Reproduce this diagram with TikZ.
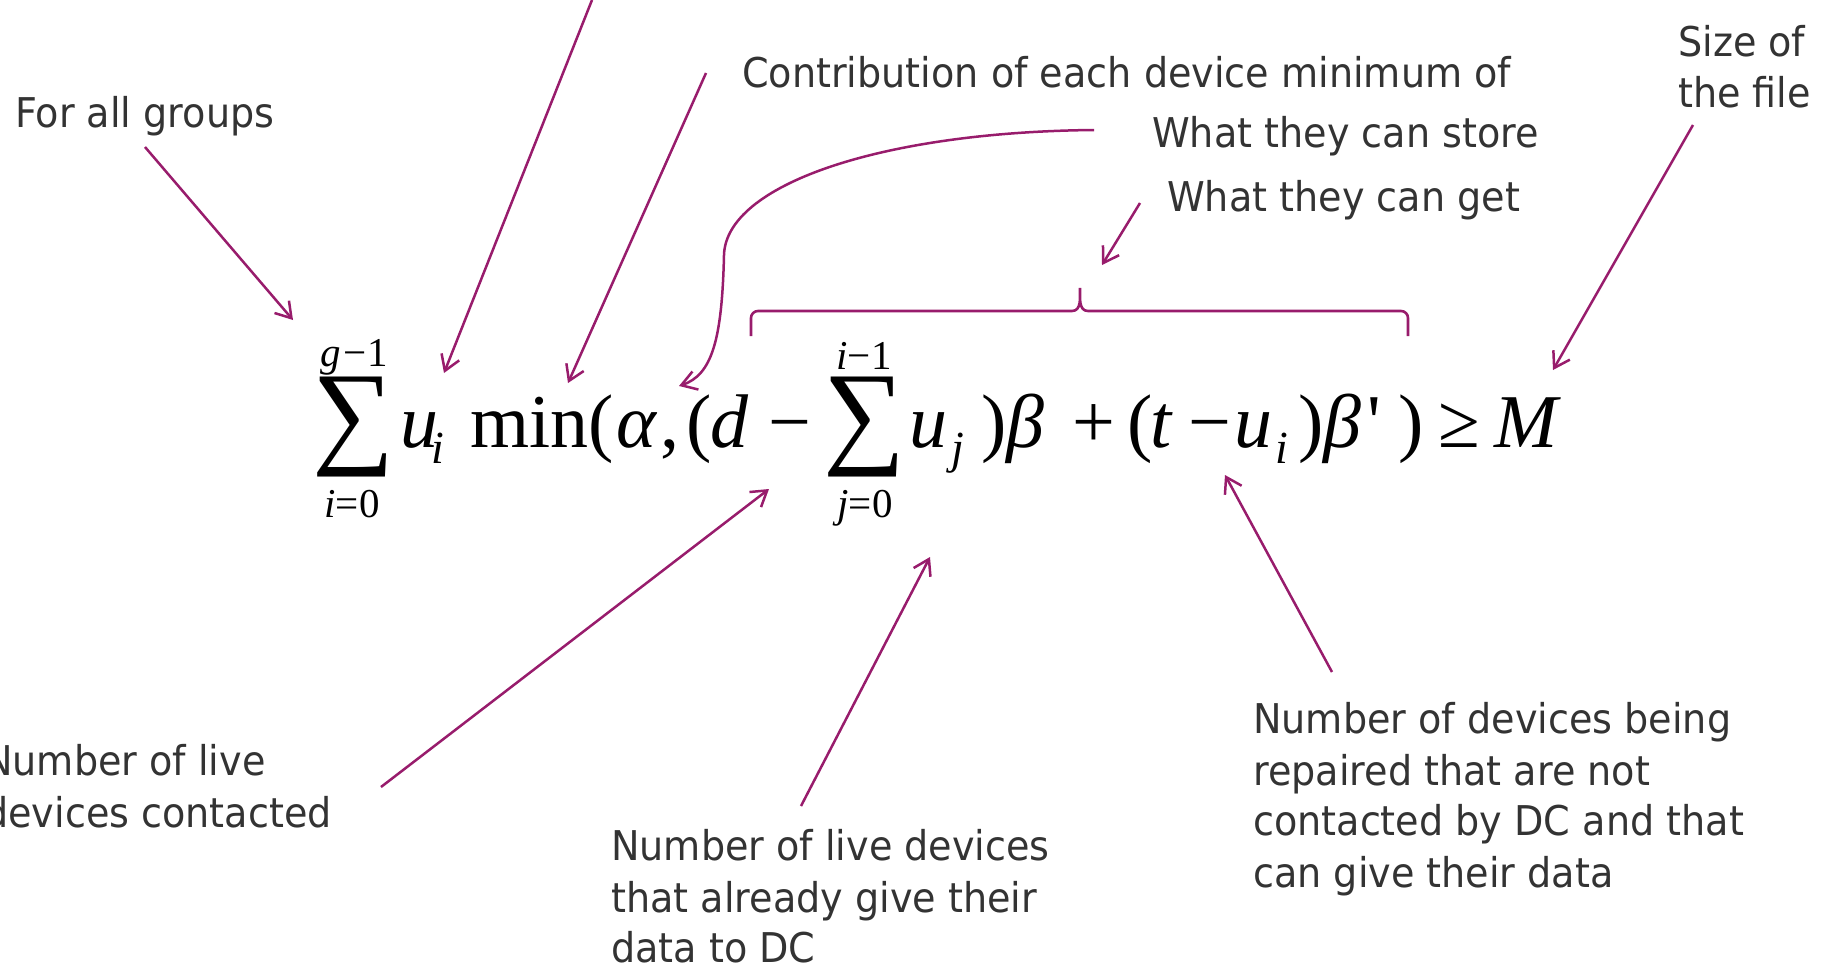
\documentclass[tikz,border=0pt]{standalone}
\usepackage{fontspec}
\usepackage{graphicx}
\setmainfont{DejaVu Sans}[FakeStretch=0.93]
\newfontfamily\eqfont{Liberation Serif}
\usetikzlibrary{arrows.meta}
\definecolor{arrowc}{RGB}{152,28,108}
\definecolor{txtc}{RGB}{51,51,51}
\begin{document}
\begin{tikzpicture}[x=1pt,y=-1pt,
  lbl/.style={anchor=base west, inner sep=0pt, text=txtc, font=\fontsize{41}{51}\selectfont},
  eq/.style={anchor=base west, inner sep=0pt, font=\fontsize{76}{76}\eqfont},
  eqi/.style={anchor=base west, inner sep=0pt, font=\fontsize{76}{76}\eqfont\itshape},
  sub/.style={anchor=base west, inner sep=0pt, font=\fontsize{46}{46}\eqfont\itshape},
  lim/.style={anchor=base, inner sep=0pt, font=\fontsize{41}{41}\eqfont},
  bigsum/.style={anchor=center, inner sep=0pt, font=\eqfont},
  arr/.style={draw=arrowc, line width=2.5pt, -{Straight Barb[length=15pt,width=19pt]}},
  brc/.style={draw=arrowc, line width=2.6pt}]
\useasboundingbox (0,0) rectangle (1831,969);

% ---- labels ----
\node[lbl] (forall) at (15,127) {For all groups};
\node[lbl] (contrib) at (742,87) {Contribution of each device minimum of};
\node[lbl] (store) at (1152,147) {What they can store};
\node[lbl] (get) at (1167,211) {What they can get};
\node[lbl] (size1) at (1678,56) {Size of};
\node[lbl] (size2) at (1678,107) {the file};
\node[lbl] (live1) at (-16,775) {Number of live};
\node[lbl] (live2) at (-16,827) {devices contacted};
\node[lbl] (give1) at (611,860) {Number of live devices};
\node[lbl] (give2) at (611,912) {that already give their};
\node[lbl] (give3) at (611,962) {data to DC};
\node[lbl] (rep1) at (1253,733) {Number of devices being};
\node[lbl] (rep2) at (1253,785) {repaired that are not};
\node[lbl] (rep3) at (1253,835) {contacted by DC and that};
\node[lbl] (rep4) at (1253,887) {can give their data};

% ---- formula ----
\node[bigsum] (sum1) at (353.5,427) {\resizebox*{82pt}{100pt}{∑}};
\node[lim] (sum1up) at (354,366) {\itshape g\upshape\kern3pt −1};
\node[lim] (sum1lo) at (352,517) {\itshape i\upshape =0};
\node[eqi] (u1) at (400,447) {u};
\node[sub] (i1) at (431,463) {i};
\node[eq] (min) at (470,447) {min(};
\node[eqi] (alpha) at (616,447) {α};
\node[eq] (comma) at (660,447) {,};
\node[eq] (par1) at (686,447) {(};
\node[eqi] (d) at (710,447) {d};
\node[eq] (minus1) at (768,447) {−};
\node[bigsum] (sum2) at (865,427) {\resizebox*{82pt}{100pt}{∑}};
\node[lim] (sum2up) at (864,369) {\itshape i\upshape −1};
\node[lim] (sum2lo) at (865,517) {\itshape j\upshape =0};
\node[eqi] (u2) at (909,447) {u};
\node[sub] (j) at (951,463) {j};
\node[eq] (par2) at (981,447) {)};
\node[eqi] (beta1) at (1006,447) {β};
\node[eq] (plus) at (1072,447) {+};
\node[eq] (par3) at (1127,447) {(};
\node[eqi] (t) at (1150,447) {t};
\node[eq] (minus2) at (1188,447) {−};
\node[eqi] (u3) at (1234,447) {u};
\node[sub] (i3) at (1275,463) {i};
\node[eq] (par4) at (1298,447) {)};
\node[eqi] (beta2) at (1323,447) {β};
\node[eq] (prime) at (1367,447) {'};
\node[eq] (par5) at (1398,447) {)};
\node[eq] (geq) at (1438,447) {≥};
\node[eqi] (M) at (1494,447) {M};

% ---- arrow end points ----
\coordinate (a1s) at (145,147);  \coordinate (a1e) at (293,320);
\coordinate (a2s) at (592,0);    \coordinate (a2e) at (444,373);
\coordinate (a3s) at (706,73);   \coordinate (a3e) at (568,383);
\coordinate (a4s) at (1094,130); \coordinate (a4e) at (679,386);
\coordinate (a5s) at (1140,203); \coordinate (a5e) at (1102,265);
\coordinate (a6s) at (1693,125); \coordinate (a6e) at (1553,370);
\coordinate (a8s) at (381,787);  \coordinate (a8e) at (769,489);
\coordinate (a9s) at (801,806);  \coordinate (a9e) at (930,557);
\coordinate (a10s) at (1332,672); \coordinate (a10e) at (1225,475);

\draw[arr] (a1s) -- (a1e);
\draw[arr] (a2s) -- (a2e);
\draw[arr] (a3s) -- (a3e);
\draw[arr] (a4s) .. controls (880,132) and (726,185) .. (724,255)
              .. controls (722,340) and (712,375) .. (a4e);
\draw[arr] (a5s) -- (a5e);
\draw[arr] (a6s) -- (a6e);
\draw[arr] (a8s) -- (a8e);
\draw[arr] (a9s) -- (a9e);
\draw[arr] (a10s) -- (a10e);

% ---- brace ----
\draw[brc] (751,336) -- (751,318) to[out=90,in=180] (758,311) -- (1072,311)
  to[out=0,in=-90] (1080,288) to[out=-90,in=180] (1088,311) -- (1401,311)
  to[out=0,in=90] (1408,318) -- (1408,336);
\end{tikzpicture}
\end{document}
